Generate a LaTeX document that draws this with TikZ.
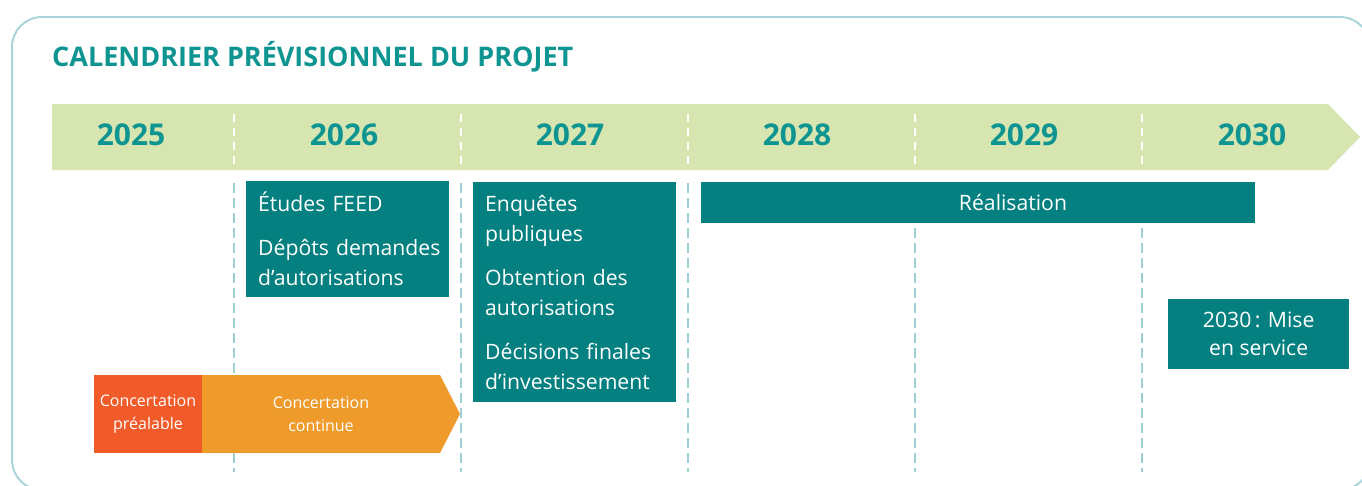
\documentclass[tikz,border=0pt]{standalone}
\usepackage{fontspec}
\setmainfont{Open Sans}
\usetikzlibrary{positioning}
\definecolor{framecol}{HTML}{A9D4D9}
\definecolor{bandcol}{HTML}{D7E5B0}
\definecolor{titlecol}{HTML}{0E9591}
\definecolor{boxcol}{HTML}{03807F}
\definecolor{gridcol}{HTML}{9ECFD5}
\definecolor{prealcol}{HTML}{F15A29}
\definecolor{contcol}{HTML}{EE9B2C}
\tikzset{
  yearlabel/.style = {text=titlecol, font=\bfseries\fontsize{30}{32}\selectfont},
  phasebox/.style = {fill=boxcol, text=white, font=\fontsize{21.2}{30}\selectfont,
    align=left, inner xsep=12pt, anchor=north west},
  concertext/.style = {text=white, font=\fontsize{16}{23}\selectfont, align=center},
  yearsep/.style = {white, line width=2.5pt, dash pattern=on 8pt off 6pt},
  gridsep/.style = {gridcol, line width=2.5pt, dash pattern=on 10pt off 5pt}
}

\begin{document}
\begin{tikzpicture}[x=1pt,y=-1pt]
  \useasboundingbox (0,0) rectangle (1362,485);
  \clip (0,0) rectangle (1362,485);
  % frame and title
  \draw[framecol, line width=2pt, rounded corners=30pt] (12,17) rectangle (1370,490);
  \node[anchor=west, inner sep=0pt, text=titlecol, font=\bfseries\fontsize{27}{30}\selectfont]
    (title) at (52,57) {CALENDRIER PRÉVISIONNEL DU PROJET};
  % year band
  \fill[bandcol] (52,104) -- (1328,104) -- (1360,137) -- (1328,170) -- (52,170) -- cycle;
  \foreach \yr/\xc in {2025/131,2026/344,2027/570,2028/797,2029/1024,2030/1252}
    \node[yearlabel] (y\yr) at (\xc,135) {\yr};
  \foreach \xs in {234,461,688,915,1142} {
    \draw[yearsep] (\xs,114) -- (\xs,164);
    \draw[gridsep] (\xs,183) -- (\xs,472);
  }
  % phases
  \node[phasebox, text width=179pt, minimum height=116pt] (feed) at (246,181)
    {Études FEED\\[14pt]\mbox{Dépôts demandes}\\d’autorisations};
  \node[phasebox, text width=179pt, minimum height=220pt] (enquetes) at (473,182)
    {Enquêtes\\publiques\\[14pt]Obtention des\\autorisations\\[14pt]\mbox{Décisions finales}\\d’investissement};
  \node[phasebox, minimum width=554pt, minimum height=41pt, inner sep=0pt] (realisation) at (701,182) {};
  \node[text=white, font=\fontsize{21.2}{30}\selectfont] (realtxt) at (1013,202) {Réalisation};
  \node[fill=boxcol, text=white, font=\fontsize{21.2}{28}\selectfont, align=center,
    minimum width=181pt, minimum height=70pt, anchor=north west] (service) at (1168,299)
    {2030\thinspace: Mise\\en service};
  % concertation
  \fill[prealcol] (94,375) rectangle (202,453);
  \fill[contcol] (202,375) -- (440,375) -- (460,414) -- (440,453) -- (202,453) -- cycle;
  \node[concertext] (prealable) at (148,414) {Concertation\\préalable};
  \node[concertext] (continue) at (321,414) {Concertation\\continue};
\end{tikzpicture}
\end{document}
